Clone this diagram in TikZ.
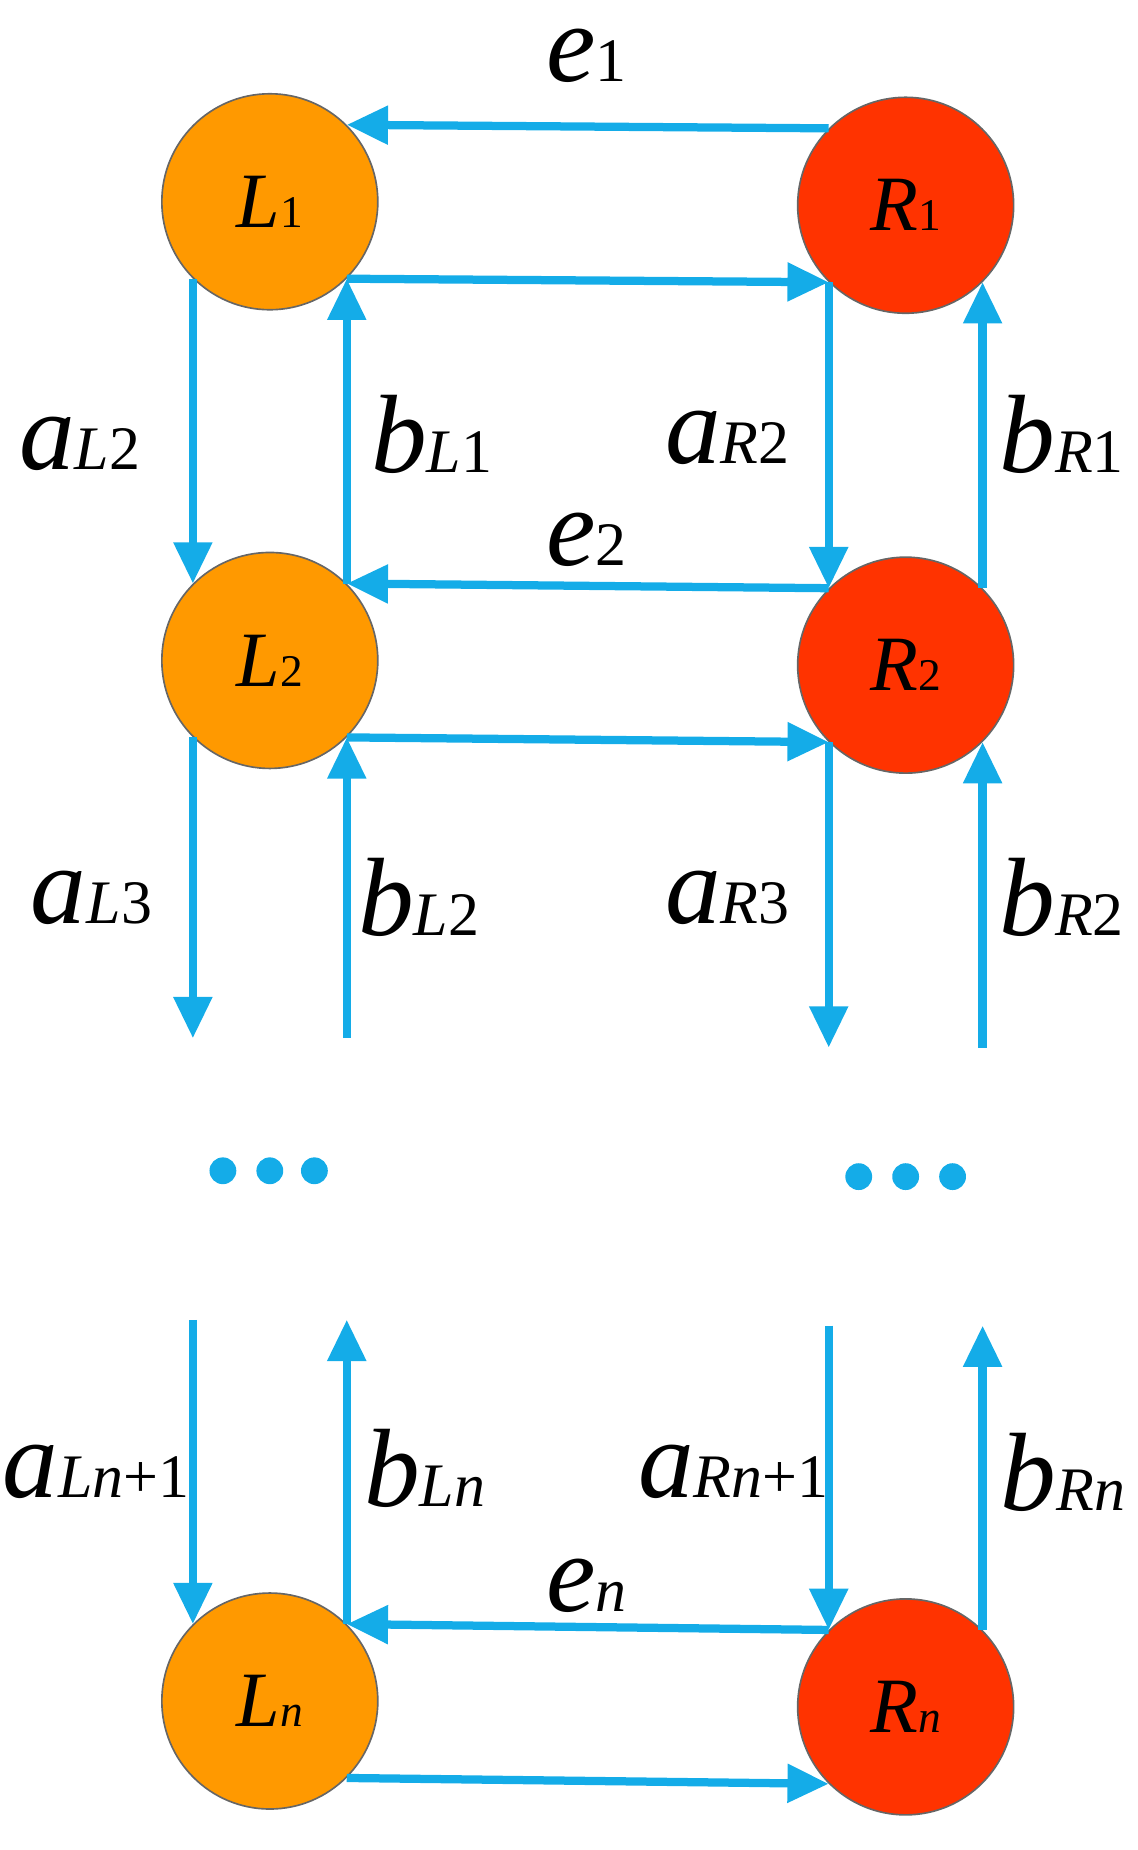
\documentclass[tikz,border=0pt]{standalone}
\usepackage{fontspec}
\setmainfont{Liberation Serif}
\usetikzlibrary{arrows.meta, positioning, calc}
\definecolor{lorange}{RGB}{255,153,0}
\definecolor{rred}{RGB}{255,51,0}
\definecolor{flow}{RGB}{20,172,232}
\newcommand{\lbl}[2]{\textit{#1}{\fontsize{15}{17}\selectfont #2}}
\newcommand{\cl}[2]{\textit{#1}{\fontsize{11}{13}\selectfont #2}}
\begin{document}
\begin{tikzpicture}[x=0.01cm, y=-0.01cm,
	node/.style={circle, draw=black!60, line width=0.4pt, minimum size=1.84cm, inner sep=0pt, font=\fontsize{19}{21}\selectfont},
	lnode/.style={node, fill=lorange},
	rnode/.style={node, fill=rred},
	flow/.style={draw=flow, line width=2pt, -{Triangle[length=10pt, width=9pt]}},
	lab/.style={font=\fontsize{27}{31}\selectfont, inner sep=0pt},
	dot/.style={circle, fill=flow, minimum size=6.5pt, inner sep=0pt}]
	\useasboundingbox (0,0) rectangle (970,1577);

	% circles
	\node[lnode] (L1) at (230,172) {\cl{L}{1}};
	\node[rnode] (R1) at (772,175) {\cl{R}{1}};
	\node[lnode] (L2) at (230,563) {\cl{L}{2}};
	\node[rnode] (R2) at (772,567) {\cl{R}{2}};
	\node[lnode] (Ln) at (230,1450) {\cl{L}{\textit{n}}};
	\node[rnode] (Rn) at (772,1455) {\cl{R}{\textit{n}}};

	% horizontal connectors
	\draw[flow] (R1.135) -- (L1.45);
	\draw[flow] (L1.-45) -- (R1.-135);
	\draw[flow] (R2.135) -- (L2.45);
	\draw[flow] (L2.-45) -- (R2.-135);
	\draw[flow] (Rn.135) -- (Ln.45);
	\draw[flow] (Ln.-45) -- (Rn.-135);

	% vertical connectors
	\draw[flow] (L1.-135) -- (L2.135);
	\draw[flow] (L2.45) -- (L1.-45);
	\draw[flow] (R1.-135) -- (R2.135);
	\draw[flow] (R2.45) -- (R1.-45);

	\coordinate (lend) at (0,885);
	\coordinate (rend) at (0,893);
	\coordinate (ltop) at (0,1125);
	\coordinate (rtop) at (0,1130);
	\draw[flow] (L2.-135) -- (L2.-135 |- lend);
	\draw[flow] (L2.-45 |- lend) -- (L2.-45);
	\draw[flow] (R2.-135) -- (R2.-135 |- rend);
	\draw[flow] (R2.-45 |- rend) -- (R2.-45);
	\draw[flow] (Ln.135 |- ltop) -- (Ln.135);
	\draw[flow] (Ln.45) -- (Ln.45 |- ltop);
	\draw[flow] (Rn.135 |- rtop) -- (Rn.135);
	\draw[flow] (Rn.45) -- (Rn.45 |- rtop);

	% dots
	\foreach \x in {190,230,268} \node[dot] (dl\x) at (\x,998) {};
	\foreach \x in {732,772,812} \node[dot] (dr\x) at (\x,1003) {};

	% labels
	\node[lab] (e1) at (500,48) {\lbl{e}{1}};
	\node[lab] (e2) at (500,460) {\lbl{e}{2}};
	\node[lab] (en) at (500,1352) {\lbl{e}{\textit{n}}};
	\node[lab] (aL2) at (68,378) {\lbl{a}{\textit{L}2}};
	\node[lab] (bL1) at (368,370) {\lbl{b}{\textit{L}1}};
	\node[lab] (aR2) at (620,373) {\lbl{a}{\textit{R}2}};
	\node[lab] (bR1) at (905,370) {\lbl{b}{\textit{R}1}};
	\node[lab] (aL3) at (78,765) {\lbl{a}{\textit{L}3}};
	\node[lab] (bL2) at (357,765) {\lbl{b}{\textit{L}2}};
	\node[lab] (aR3) at (620,765) {\lbl{a}{\textit{R}3}};
	\node[lab] (bR2) at (905,765) {\lbl{b}{\textit{R}2}};
	\node[lab] (aLn) at (82,1255) {\lbl{a}{\textit{Ln}+1}};
	\node[lab] (bLn) at (362,1252) {\lbl{b}{\textit{Ln}}};
	\node[lab] (aRn) at (625,1255) {\lbl{a}{\textit{Rn}+1}};
	\node[lab] (bRn) at (906,1255) {\lbl{b}{\textit{Rn}}};
\end{tikzpicture}
\end{document}
